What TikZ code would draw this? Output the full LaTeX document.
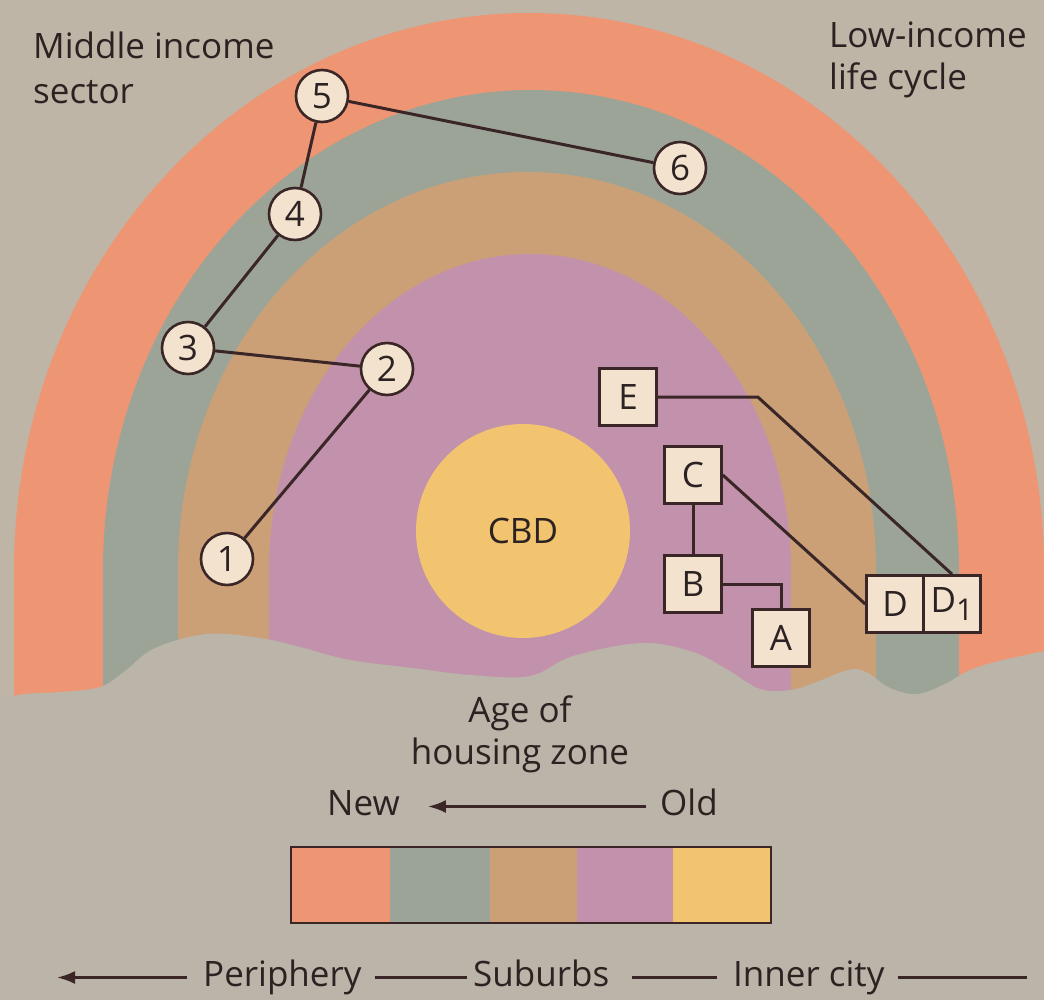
\documentclass[tikz,border=0pt]{standalone}
\usepackage{fontspec}
\setmainfont{Open Sans}
\usetikzlibrary{arrows.meta}

% palette
\definecolor{paper}{RGB}{190,181,167}
\definecolor{ground}{RGB}{187,180,168}
\definecolor{zoneA}{RGB}{238,150,116}
\definecolor{zoneB}{RGB}{156,164,152}
\definecolor{zoneC}{RGB}{203,160,118}
\definecolor{zoneD}{RGB}{194,145,172}
\definecolor{zoneE}{RGB}{242,196,112}
\definecolor{cream}{RGB}{243,226,206}
\definecolor{ink}{RGB}{58,38,38}
\definecolor{txt}{RGB}{44,34,34}

\newcommand\diagfont{\fontsize{35}{42}\selectfont}

\begin{document}
\begin{tikzpicture}[x=1pt,y=-1pt,
  stop/.style={circle, draw=ink, line width=2.6pt, fill=cream,
    minimum size=52pt, inner sep=0pt, font=\diagfont, text=txt},
  house/.style={rectangle, draw=ink, line width=2.6pt, fill=cream,
    minimum width=57pt, minimum height=57pt, inner sep=0pt, font=\diagfont, text=txt},
  link/.style={draw=ink, line width=3pt},
  rule/.style={draw=ink, line width=2.6pt},
  lab/.style={font=\diagfont, text=txt, inner sep=0pt},
  rowlab/.style={lab, anchor=base west, text height=25pt, text depth=8pt},
  tip/.style={-{Latex[length=18pt,width=13pt]}}
]
\path[use as bounding box] (0,0) rectangle (1044,999);

% concentric housing-age zones
\begin{scope}
  \clip (0,0) rectangle (1044,999);
  \fill[paper] (0,0) rectangle (1044,999);
  \fill[zoneA] (529,570) ellipse [x radius=515, y radius=557];
  \fill[zoneA] (14,570) rectangle (1044,1000);
  \fill[zoneB] (531,570) ellipse [x radius=428, y radius=480];
  \fill[zoneB] (103,570) rectangle (959,1000);
  \fill[zoneC] (527,570) ellipse [x radius=349, y radius=398];
  \fill[zoneC] (178,570) rectangle (876,1000);
  \fill[zoneD] (530,570) ellipse [x radius=261, y radius=316];
  \fill[zoneD] (269,570) rectangle (791,1000);
  % uneven ground covering the lower part
  \fill[ground] plot[smooth, tension=0.6] coordinates {
    (-6,700) (25,694) (60,692) (100,687) (125,671) (155,648) (207,634)
    (260,638) (300,647) (350,660) (413,668) (470,675) (530,676) (573,656)
    (642,643) (693,652) (728,670) (760,689) (790,690) (814,683) (848,670)
    (866,672) (890,688) (917,694) (945,684) (970,670) (1003,660) (1050,650)}
    -- (1050,1005) -- (-6,1005) -- cycle;
\end{scope}

% central business district
\node[circle, fill=zoneE, minimum size=214pt, inner sep=0pt, font=\diagfont, text=txt]
  (cbd) at (523,531) {CBD};

% middle-income moves
\node[stop] (n1) at (227,559) {1};
\node[stop] (n2) at (387,369) {2};
\node[stop] (n3) at (188,348) {3};
\node[stop] (n4) at (295,214) {4};
\node[stop] (n5) at (322,96)  {5};
\node[stop] (n6) at (680,168) {6};
\draw[link] (n1) -- (n2);
\draw[link] (n2) -- (n3);
\draw[link] (n3) -- (n4);
\draw[link] (n4) -- (n5);
\draw[link] (n5) -- (n6);

% low-income moves
\node[house] (E)  at (628,397) {E};
\node[house] (C)  at (693,475) {C};
\node[house] (B)  at (693,584) {B};
\node[house] (A)  at (781,638) {A};
\node[house] (D)  at (895,604) {D};
\node[house] (D1) at (952,604) {D\raisebox{-0.4ex}{\fontsize{30}{30}\selectfont 1}};
\draw[link] (E.east) -- ++(100,0) -- (D1.north);
\draw[link] (C.east) -- (D.west);
\draw[link] (C.south) -- (B.north);
\draw[link] (B.east) -| (A.north);

% headings
\node[lab, anchor=base west] (mid1) at (33,58)  {Middle income};
\node[lab, anchor=base west] (mid2) at (33,103) {sector};
\node[lab, anchor=base west] (low1) at (829,47) {Low-income};
\node[lab, anchor=base west] (low2) at (829,89) {life cycle};
\node[lab, anchor=base] (age1) at (520,722) {Age of};
\node[lab, anchor=base] (age2) at (520,764) {housing zone};

% age scale
\node[rowlab] (new) at (327,815) {New};
\node[rowlab] (old) at (660,815) {Old};
\draw[rule, tip, shorten <=14pt, shorten >=28pt] (old.west) -- (new.east);

\fill[zoneA] (291,847) rectangle (390,923);
\fill[zoneB] (390,847) rectangle (490,923);
\fill[zoneC] (490,847) rectangle (577,923);
\fill[zoneD] (577,847) rectangle (673,923);
\fill[zoneE] (673,847) rectangle (771,923);
\draw[ink, line width=2.4pt] (291,847) rectangle (771,923);

% location scale
\node[rowlab] (periph)  at (203,986) {Periphery};
\node[rowlab] (suburbs) at (473,986) {Suburbs};
\node[rowlab] (inner)   at (733,986) {Inner city};
\coordinate (farleft)  at (57,978);
\coordinate (farright) at (1027,978);
\draw[rule, tip, shorten <=16pt] (periph.west) -- (periph.west -| farleft);
\draw[rule, shorten <=13pt, shorten >=6pt] (periph.east) -- (periph.east -| suburbs.west);
\draw[rule, shorten <=23pt, shorten >=16pt] (suburbs.east) -- (suburbs.east -| inner.west);
\draw[rule, shorten <=13pt] (inner.east) -- (inner.east -| farright);
\end{tikzpicture}
\end{document}
